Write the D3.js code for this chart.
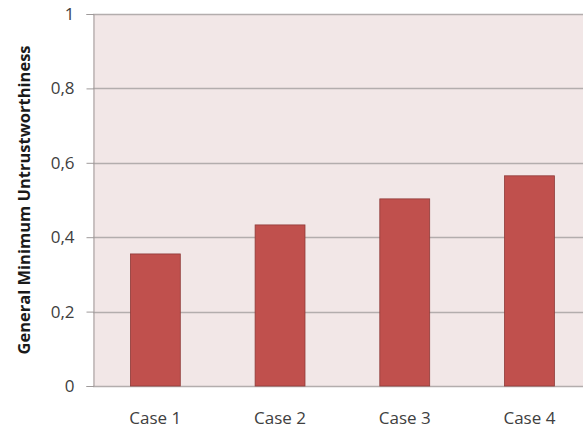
<!DOCTYPE html>
<html>
<head>
<meta charset="utf-8">
<script src="https://cdn.jsdelivr.net/npm/d3@7"></script>
<style>
  body { margin: 0; background: #fff; }
  svg { display: block; }
</style>
</head>
<body>
<div class="chart"></div>
<script>
var width = 583;
var height = 430;

var categories = ['Case 1', 'Case 2', 'Case 3', 'Case 4'];
var values = [0.355, 0.433, 0.503, 0.565];
var yTicks = [0, 0.2, 0.4, 0.6, 0.8, 1];
var yTitle = 'General Minimum Untrustworthiness';

// plot area (right side runs off the picture)
var plotLeft = 93, plotTop = 14, plotBottom = 386;
var step = 124.7;

var x = d3.scaleBand()
  .domain(categories)
  .range([plotLeft, plotLeft + step * categories.length])
  .paddingInner(0.6)
  .paddingOuter(0.3);

var y = d3.scaleLinear().domain([0, 1]).range([plotBottom, plotTop]);

var svg = d3.select('.chart').append('svg')
  .attr('width', width)
  .attr('height', height)
  .style('font-family', 'Open Sans, Noto Sans, sans-serif');

svg.append('rect')
  .attr('x', plotLeft)
  .attr('y', plotTop)
  .attr('width', width - plotLeft)
  .attr('height', plotBottom - plotTop)
  .attr('fill', '#f2e7e7');

// grid lines
svg.append('g')
  .selectAll('line')
  .data(yTicks)
  .enter().append('line')
    .attr('x1', plotLeft)
    .attr('x2', width)
    .attr('y1', d => Math.round(y(d)) + 0.5)
    .attr('y2', d => Math.round(y(d)) + 0.5)
    .attr('stroke', '#b3adad')
    .attr('stroke-width', 1.5);

// y axis
var yAxis = d3.axisLeft(y)
  .tickValues(yTicks)
  .tickSize(7)
  .tickPadding(12)
  .tickFormat(d => d === 0 || d === 1 ? String(d) : d3.format('.1f')(d).replace('.', ','));

svg.append('g')
  .attr('transform', `translate(${plotLeft + 0.5},0)`)
  .call(yAxis)
  .call(g => g.select('.domain').attr('stroke', '#9f9a9a'))
  .call(g => g.selectAll('.tick line').attr('stroke', '#9f9a9a'))
  .call(g => g.selectAll('.tick text')
    .attr('fill', '#404040')
    .style('font-size', '17px')
    .style('font-family', 'Open Sans, Noto Sans, sans-serif'));

// bars
svg.append('g')
  .selectAll('rect')
  .data(values)
  .enter().append('rect')
    .attr('x', (d, i) => x(categories[i]))
    .attr('y', d => y(d))
    .attr('width', x.bandwidth())
    .attr('height', d => y(0) - y(d))
    .attr('fill', '#c0504d')
    .attr('stroke', '#8e3a38')
    .attr('stroke-width', 0.8);

// category labels
svg.append('g')
  .selectAll('text')
  .data(categories)
  .enter().append('text')
    .attr('x', d => x(d) + x.bandwidth() / 2)
    .attr('y', 424)
    .attr('text-anchor', 'middle')
    .attr('fill', '#404040')
    .style('font-size', '17px')
    .text(d => d);

// y title
svg.append('text')
  .attr('transform', 'translate(30, 200) rotate(-90)')
  .attr('text-anchor', 'middle')
  .attr('fill', '#1a1a1a')
  .style('font-size', '16.5px')
  .style('font-weight', 'bold')
  .text(yTitle);
</script>
</body>
</html>
